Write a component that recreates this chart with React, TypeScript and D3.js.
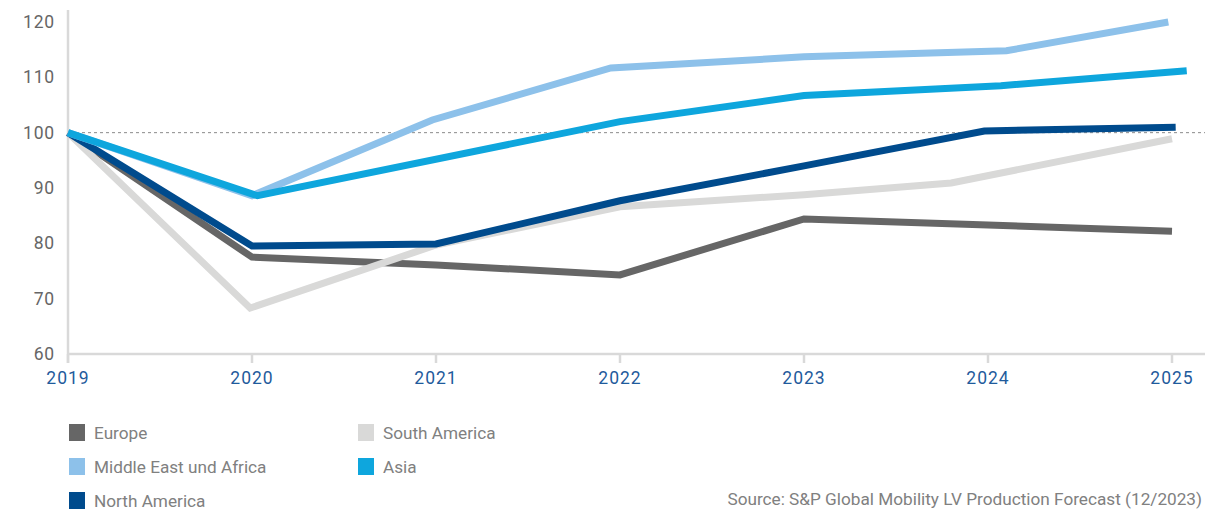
import React, { useEffect, useRef } from "react";
import * as d3 from "d3";

const years = [2019, 2020, 2021, 2022, 2023, 2024, 2025];
const yTicks = [60, 70, 80, 90, 100, 110, 120];

// [x position in years, index value]
const europe: [number, number][] = [[2019, 100], [2020, 77.5], [2021, 76.1], [2022, 74.3], [2023, 84.4], [2024, 83.3], [2025, 82.2]];
const southAmerica: [number, number][] = [[2019, 100], [2019.99, 68.3], [2021, 79.7], [2022, 86.6], [2023, 88.8], [2023.8, 90.9], [2025, 98.9]];
const northAmerica: [number, number][] = [[2019, 100], [2020, 79.5], [2021, 79.9], [2022, 87.7], [2023, 94], [2023.98, 100.3], [2025.02, 101]];
const middleEast: [number, number][] = [[2019, 100], [2020, 88.6], [2020.98, 102.3], [2021.95, 111.7], [2023, 113.7], [2024.1, 114.8], [2024.98, 120]];
const asia: [number, number][] = [[2019, 100], [2020.03, 88.6], [2022, 102], [2023, 106.7], [2024.07, 108.5], [2025.08, 111.2]];

const seriesNames = ["Europe", "South America", "Middle East und Africa", "Asia", "North America"];
const colors: Record<string, string> = {
  "Europe": "#666666",
  "South America": "#d9d9d8",
  "Middle East und Africa": "#8dc1ea",
  "Asia": "#0ea6dd",
  "North America": "#004b8d",
};
const source = "Source: S&P Global Mobility LV Production Forecast (12/2023)";

export default function App() {
  const ref = useRef<SVGSVGElement>(null);
  useEffect(() => {
    const svg = d3.select(ref.current);
    svg.selectAll("*").remove();
    const font = "Roboto, sans-serif";
    const x = d3.scaleLinear().domain([2019, 2025]).range([68, 1172]);
    const y = d3.scaleLinear().domain([60, 120]).range([354, 22]);

    // axes
    svg.append("line").attr("x1", 68).attr("x2", 68).attr("y1", 10).attr("y2", 363)
      .attr("stroke", "#d9d9d9").attr("stroke-width", 2.5);
    svg.append("line").attr("x1", 67).attr("x2", 1205).attr("y1", y(60)).attr("y2", y(60))
      .attr("stroke", "#d9d9d9").attr("stroke-width", 2.5);
    years.forEach((yr) => {
      svg.append("line").attr("x1", x(yr)).attr("x2", x(yr)).attr("y1", y(60)).attr("y2", y(60) + 9)
        .attr("stroke", "#d9d9d9").attr("stroke-width", 2.5);
      svg.append("text").attr("x", x(yr)).attr("y", 384).attr("text-anchor", "middle")
        .attr("font-family", font).attr("font-size", 17.5).attr("letter-spacing", 1)
        .attr("fill", "#1f5b9c").text(String(yr));
    });
    yTicks.forEach((t) => {
      svg.append("text").attr("x", 55).attr("y", y(t) + 6).attr("text-anchor", "end")
        .attr("font-family", font).attr("font-size", 17.5).attr("letter-spacing", 0.8)
        .attr("fill", "#666").text(String(t));
    });
    svg.append("line").attr("x1", 70).attr("x2", 1205).attr("y1", y(100)).attr("y2", y(100))
      .attr("stroke", "#8a8a8a").attr("stroke-width", 1).attr("stroke-dasharray", "3,3");

    const line = d3.line<[number, number]>().x((d) => x(d[0])).y((d) => y(d[1]));
    const draw: [string, [number, number][]][] = [
      ["Europe", europe],
      ["South America", southAmerica],
      ["North America", northAmerica],
      ["Middle East und Africa", middleEast],
      ["Asia", asia],
    ];
    draw.forEach(([name, data]) => {
      svg.append("path").attr("d", line(data) as string).attr("fill", "none")
        .attr("stroke", colors[name]).attr("stroke-width", 7).attr("stroke-linejoin", "miter");
    });

    // legend
    const pos = [[69, 433], [358, 433], [69, 467], [358, 467], [69, 501]];
    seriesNames.forEach((n, i) => {
      const [lx, ly] = pos[i];
      svg.append("rect").attr("x", lx).attr("y", ly - 9).attr("width", 16).attr("height", 17).attr("fill", colors[n]);
      svg.append("text").attr("x", lx + 25).attr("y", ly + 6).attr("font-family", font).attr("font-size", 17.2)
        .attr("fill", "#808080").text(n);
    });
    svg.append("text").attr("x", 1202).attr("y", 505).attr("text-anchor", "end").attr("font-family", font)
      .attr("font-size", 17.2).attr("fill", "#808080").text(source);
  }, []);
  return (
    <svg ref={ref} width={1214} height={512} style={{ position: "absolute", left: 0, top: 0, background: "#fff" }} />
  );
}
